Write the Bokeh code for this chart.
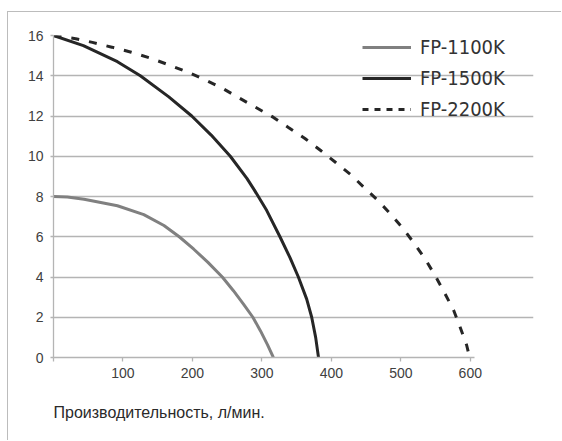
from bokeh.plotting import figure
from bokeh.models import FixedTicker, Grid, Legend, LegendItem, Range1d, Title
from bokeh.embed import file_html
from bokeh.resources import INLINE

# ---- data ----
fp1100_x = [0, 20, 44, 92, 130, 159, 181, 202, 222, 243, 259, 274, 287, 298, 308, 316.5]
fp1100_y = [8, 7.97, 7.86, 7.54, 7.1, 6.56, 6.0, 5.38, 4.74, 4.0, 3.32, 2.63, 2.0, 1.32, 0.64, 0]

fp1500_x = [0, 43, 92, 125, 166, 199, 227, 254.5, 278.4, 289, 307, 326, 340.6, 352.5, 364.5, 371.7, 377.4, 381.5]
fp1500_y = [16, 15.5, 14.7, 14.0, 12.95, 12.0, 11.05, 10.0, 8.9, 8.33, 7.3, 6.0, 4.95, 4.0, 2.9, 2.0, 1.0, 0]

fp2200_x = [0, 32, 56, 84, 112, 139, 166, 193, 218, 243, 264, 290.6, 316.7, 338.2, 362, 384.2, 406.3,
            428, 448, 467.3, 485.6, 503.9, 520.2, 536, 550.4, 563.4, 575.9, 585.4, 594.7, 599]
fp2200_y = [16, 15.84, 15.66, 15.42, 15.17, 14.88, 14.54, 14.18, 13.8, 13.38, 12.96, 12.44, 11.93, 11.43, 10.88, 10.3, 9.69,
            9.08, 8.42, 7.79, 7.12, 6.38, 5.63, 4.84, 4.01, 3.18, 2.36, 1.5, 0.62, 0]

series_names = ["FP-1100K", "FP-1500K", "FP-2200K"]
x_ticks = [0, 100, 200, 300, 400, 500, 600]
y_ticks = [0, 2, 4, 6, 8, 10, 12, 14, 16]
x_title = "Производительность, л/мин."

GRID = "#b4b4b4"
TICK_TXT = "#404040"

p = figure(
    width=554, height=429,
    x_range=Range1d(0, 691), y_range=Range1d(0, 16),
    output_backend="svg", toolbar_location=None,
    min_border_left=45, min_border_right=29, min_border_top=23, min_border_bottom=84,
    styles={"border-top": "1px solid #bcbcbc", "border-left": "1px solid #bcbcbc",
            "margin-top": "11px", "margin-left": "7px"},
)
p.outline_line_color = None
p.background_fill_color = "white"
p.border_fill_color = "white"

# grids: lower lines run to the axis end, upper lines stop before the legend
p.xgrid.visible = False
p.ygrid.ticker = FixedTicker(ticks=[t for t in y_ticks if t <= 10])
p.ygrid.bounds = (0, 606)
p.ygrid.grid_line_color = GRID
p.ygrid.grid_line_width = 1.3
g2 = Grid(dimension=1, ticker=FixedTicker(ticks=[t for t in y_ticks if t > 10]),
          bounds=(0, 377.6), grid_line_color=GRID, grid_line_width=1.3)
p.add_layout(g2)

# axes
p.xaxis.ticker = FixedTicker(ticks=x_ticks)
p.xaxis.bounds = (0, 606)
p.xaxis.major_label_overrides = {0: ""}
p.yaxis.ticker = FixedTicker(ticks=y_ticks)
for ax in (p.xaxis, p.yaxis):
    ax.axis_line_color = GRID
    ax.axis_line_width = 1.3
    ax.major_tick_line_color = GRID
    ax.major_tick_line_width = 1.3
    ax.minor_tick_line_color = None
    ax.major_tick_in = 0
    ax.major_label_text_font = "Liberation Sans"
    ax.major_label_text_font_size = "14px"
    ax.major_label_text_color = TICK_TXT
p.xaxis.major_tick_out = 4
p.yaxis.major_tick_out = 3
p.xaxis.major_label_standoff = 6
p.yaxis.major_label_standoff = 7

# x-axis title, left aligned under the axis
p.add_layout(Title(text=x_title, align="left", text_font="Liberation Sans",
                   text_font_style="normal", text_font_size="16px",
                   text_color="#2a2a2a", standoff=42), "below")

# curves
c1 = "#808080"
c2 = "#262626"
p.line(fp1100_x, fp1100_y, line_color=c1, line_width=3)
p.line(fp1500_x, fp1500_y, line_color=c2, line_width=3)
p.line(fp2200_x, fp2200_y, line_color=c2, line_width=3, line_dash="8 10")

# legend samples: single-point lines (draw nothing) carrying the legend styles
l1 = p.line(fp1100_x[:1], fp1100_y[:1], line_color=c1, line_width=3)
l2 = p.line(fp1500_x[:1], fp1500_y[:1], line_color=c2, line_width=3)
l3 = p.line(fp2200_x[:1], fp2200_y[:1], line_color=c2, line_width=3, line_dash="6 6")

legend = Legend(
    items=[LegendItem(label=n, renderers=[r]) for n, r in zip(series_names, [l1, l2, l3])],
    location=(309, 233),
    padding=0, margin=0, spacing=1,
    glyph_width=49, glyph_height=30, label_height=30, label_standoff=9,
    border_line_color=None, background_fill_alpha=0,
    label_text_font="DejaVu Sans Condensed", label_text_font_size="20px",
    label_text_color="#333333",
)
p.add_layout(legend)

open("out.html", "w").write(file_html(p, INLINE))
